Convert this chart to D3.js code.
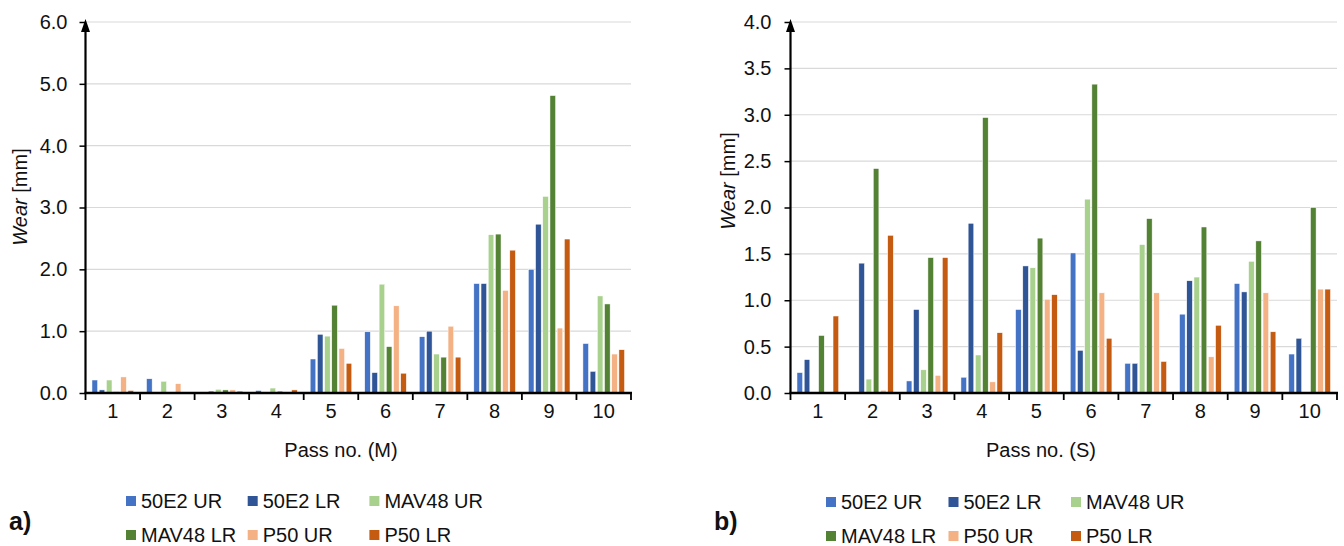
<!DOCTYPE html>
<html>
<head>
<meta charset="utf-8">
<script src="https://cdn.jsdelivr.net/npm/d3@7"></script>
<style>
  body { margin: 0; background: #fff; }
  text { font-family: "Liberation Sans", Arial, sans-serif; fill: #111; }
</style>
</head>
<body>
<script>
// categories and series
const passes = ["1", "2", "3", "4", "5", "6", "7", "8", "9", "10"];
const seriesNames = ["50E2 UR", "50E2 LR", "MAV48 UR", "MAV48 LR", "P50 UR", "P50 LR"];
const seriesColors = ["#4472C4", "#2F5597", "#A9D18E", "#548235", "#F4B183", "#C55A11"];

// panel a) - passes M
const m50E2UR  = [0.21, 0.23, 0.00, 0.04, 0.55, 0.99, 0.91, 1.77, 2.00, 0.80];
const m50E2LR  = [0.05, 0.00, 0.03, 0.00, 0.95, 0.33, 1.00, 1.77, 2.73, 0.35];
const mMAV48UR = [0.21, 0.19, 0.06, 0.08, 0.92, 1.76, 0.63, 2.56, 3.18, 1.57];
const mMAV48LR = [0.02, 0.00, 0.05, 0.03, 1.42, 0.75, 0.58, 2.57, 4.81, 1.44];
const mP50UR   = [0.26, 0.15, 0.05, 0.00, 0.72, 1.41, 1.08, 1.66, 1.05, 0.63];
const mP50LR   = [0.04, 0.00, 0.03, 0.05, 0.48, 0.32, 0.58, 2.31, 2.49, 0.70];
const mTicks = [0, 1, 2, 3, 4, 5, 6];

// panel b) - passes S
const s50E2UR  = [0.22, 0.00, 0.13, 0.17, 0.90, 1.51, 0.32, 0.85, 1.18, 0.42];
const s50E2LR  = [0.36, 1.40, 0.90, 1.83, 1.37, 0.46, 0.32, 1.21, 1.09, 0.59];
const sMAV48UR = [0.00, 0.15, 0.25, 0.41, 1.35, 2.09, 1.60, 1.25, 1.42, 0.00];
const sMAV48LR = [0.62, 2.42, 1.46, 2.97, 1.67, 3.33, 1.88, 1.79, 1.64, 2.00];
const sP50UR   = [0.00, 0.03, 0.19, 0.12, 1.01, 1.08, 1.08, 0.39, 1.08, 1.12];
const sP50LR   = [0.83, 1.70, 1.46, 0.65, 1.06, 0.59, 0.34, 0.73, 0.66, 1.12];
const sTicks = [0, 0.5, 1, 1.5, 2, 2.5, 3, 3.5, 4];

const svg = d3.select("body").append("svg")
  .attr("width", 1344)
  .attr("height", 546);

const fontSize = 20;

function drawPanel(cfg) {
  const g = svg.append("g");
  const x = d3.scaleBand().domain(passes).range([cfg.left, cfg.right]);
  const xs = d3.scaleBand().domain(seriesNames).range([0, x.bandwidth()])
    .paddingInner(0.22).paddingOuter(0.9);
  const y = d3.scaleLinear().domain([0, cfg.max]).range([393, 22]);

  // gridlines
  g.selectAll(".grid")
    .data(cfg.ticks.slice(1))
    .enter().append("line")
    .attr("x1", cfg.left).attr("x2", cfg.right)
    .attr("y1", d => y(d)).attr("y2", d => y(d))
    .attr("stroke", "#d9d9d9").attr("stroke-width", 1.2);

  // bars
  const rows = passes.map((p, i) => ({ pass: p, vals: cfg.data.map(s => s[i]) }));
  const grp = g.selectAll(".grp").data(rows).enter().append("g")
    .attr("transform", d => "translate(" + x(d.pass) + ",0)");
  grp.selectAll("rect")
    .data(d => d.vals.map((v, j) => ({ name: seriesNames[j], v: v, c: seriesColors[j] })))
    .enter().append("rect")
    .filter(d => d.v > 0)
    .attr("x", d => xs(d.name))
    .attr("width", xs.bandwidth())
    .attr("y", d => y(d.v))
    .attr("height", d => y(0) - y(d.v))
    .attr("fill", d => d.c)
    .attr("stroke", "#ffffff").attr("stroke-width", 0.5);

  // y axis
  const yAxis = g.append("g")
    .attr("transform", "translate(" + cfg.left + ",0)")
    .call(d3.axisLeft(y).tickValues(cfg.ticks).tickFormat(d3.format(".1f"))
      .tickSize(6).tickPadding(cfg.pad));
  yAxis.select(".domain").remove();
  yAxis.selectAll(".tick line").attr("stroke", "#000").attr("stroke-width", 1.5);
  yAxis.selectAll(".tick text")
    .attr("font-size", fontSize + "px")
    .attr("font-family", "Liberation Sans, Arial, sans-serif")
    .attr("fill", "#111");

  g.append("line")
    .attr("x1", cfg.left).attr("x2", cfg.left)
    .attr("y1", y(0) + 1).attr("y2", 30)
    .attr("stroke", "#000").attr("stroke-width", 2.2);
  g.append("path")
    .attr("d", "M" + cfg.left + ",19 L" + (cfg.left - 4.5) + ",32 L" + (cfg.left + 4.5) + ",32 Z")
    .attr("fill", "#000");

  // x axis
  g.append("line")
    .attr("x1", cfg.left - 1).attr("x2", cfg.right + 1)
    .attr("y1", y(0)).attr("y2", y(0))
    .attr("stroke", "#000").attr("stroke-width", 2.4);
  const bounds = passes.map(p => x(p)).concat([cfg.right]);
  g.selectAll(".xtick").data(bounds).enter().append("line")
    .attr("x1", d => d).attr("x2", d => d)
    .attr("y1", y(0)).attr("y2", y(0) + 7)
    .attr("stroke", "#000").attr("stroke-width", 1.8);
  g.selectAll(".xlab").data(passes).enter().append("text")
    .attr("x", d => x(d) + x.bandwidth() / 2)
    .attr("y", 418)
    .attr("text-anchor", "middle")
    .attr("font-size", fontSize + "px")
    .text(d => d);

  // axis titles
  g.append("text")
    .attr("x", cfg.xTitleX).attr("y", 457)
    .attr("text-anchor", "middle")
    .attr("font-size", fontSize + "px")
    .text(cfg.xTitle);
  const yt = g.append("text")
    .attr("transform", "translate(" + (cfg.yTitleX) + "," + cfg.yTitleY + ") rotate(-90)")
    .attr("text-anchor", "middle")
    .attr("font-size", fontSize + "px");
  yt.append("tspan").attr("font-style", "italic").text("Wear");
  yt.append("tspan").text(" [mm]");

  // legend
  const leg = g.selectAll(".leg").data(seriesNames).enter().append("g")
    .attr("transform", (d, i) => "translate(" + (cfg.legX + (i % 3) * cfg.legStep) + "," +
      (cfg.legY + Math.floor(i / 3) * 34) + ")");
  leg.append("rect")
    .attr("x", 0).attr("y", -5).attr("width", 10).attr("height", 10)
    .attr("fill", (d, i) => seriesColors[i]);
  leg.append("text")
    .attr("x", 15).attr("y", 7)
    .attr("font-size", fontSize + "px")
    .text(d => d);

  // panel label
  g.append("text")
    .attr("x", cfg.labelX).attr("y", 530)
    .attr("font-size", "25px")
    .attr("font-weight", "bold")
    .text(cfg.label);
}

drawPanel({
  left: 85.5, right: 631, max: 6, ticks: mTicks, pad: 12,
  data: [m50E2UR, m50E2LR, mMAV48UR, mMAV48LR, mP50UR, mP50LR],
  xTitle: "Pass no. (M)", xTitleX: 341, yTitleX: 27, yTitleY: 197,
  legX: 126, legY: 501, legStep: 121.7, label: "a)", labelX: 9
});

drawPanel({
  left: 790.5, right: 1337, max: 4, ticks: sTicks, pad: 13,
  data: [s50E2UR, s50E2LR, sMAV48UR, sMAV48LR, sP50UR, sP50LR],
  xTitle: "Pass no. (S)", xTitleX: 1041, yTitleX: 735, yTitleY: 181,
  legX: 826, legY: 502, legStep: 122.5, label: "b)", labelX: 714
});
</script>
</body>
</html>
